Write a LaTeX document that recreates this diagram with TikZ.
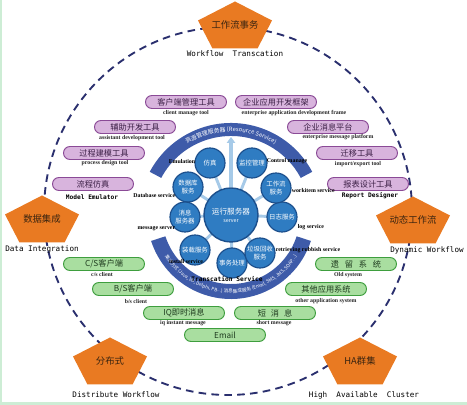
\documentclass[tikz,border=0pt]{standalone}
\usepackage{fontspec}
\setmainfont{Liberation Serif}
\newfontfamily\cjk{Noto Sans CJK SC}
\newfontfamily\mono{DejaVu Sans Mono}
\usepackage{tikz}
\usetikzlibrary{arrows.meta,calc,decorations.text}

\definecolor{pentorange}{HTML}{E97A22}
\definecolor{penttxt}{HTML}{3A2410}
\definecolor{ringnavy}{HTML}{2A2F6E}
\definecolor{boxpurple}{HTML}{D8B4DD}
\definecolor{boxpurpledark}{HTML}{8A4A96}
\definecolor{boxpurpletext}{HTML}{3B1F45}
\definecolor{boxgreen}{HTML}{A9DEA0}
\definecolor{boxgreendark}{HTML}{3E9E3E}
\definecolor{boxgreentext}{HTML}{1E3A1E}
\definecolor{bandblue}{HTML}{3E5BA9}
\definecolor{svcblue}{HTML}{2F7CC2}
\definecolor{svcdark}{HTML}{1C4F8C}
\definecolor{spokeblue}{HTML}{A6CAE8}
\definecolor{bggreen}{HTML}{CDEDD5}

% orange pentagon with its title node
\newcommand{\pentshape}[3]{%
  \fill[pentorange] ($(#2)+(0,23.5)$) -- ++(37,-19) -- ++(-14.5,-28) -- ++(-45,0) -- ++(-14.5,28) -- cycle;
  \node[penttext] (#1) at (#2) {#3};}

\begin{document}
\begin{tikzpicture}[x=0.03cm,y=0.03cm,
  penttext/.style={font=\cjk\fontsize{8}{9}\selectfont,text=penttxt},
  pentlabel/.style={font=\mono\fontsize{6.5}{8}\selectfont},
  toolbox/.style={draw,line width=0.8pt,rounded corners=5.5pt,minimum width=2.43cm,
    minimum height=0.39cm,inner sep=0pt,font=\cjk\fontsize{7}{8}\selectfont},
  purplebox/.style={toolbox,fill=boxpurple,draw=boxpurpledark,text=boxpurpletext},
  greenbox/.style={toolbox,fill=boxgreen,draw=boxgreendark,text=boxgreentext},
  sublabel/.style={font=\bfseries\fontsize{5}{6}\selectfont,text=black!85,inner sep=0pt},
  monolabel/.style={font=\mono\bfseries\fontsize{5.3}{6}\selectfont,inner sep=0pt},
  svc/.style={circle,fill=svcblue,draw=svcdark,line width=1pt,minimum size=0.9cm,
    inner sep=0pt,align=center,text=white,font=\cjk\fontsize{5.5}{6.5}\selectfont},
  svclabel/.style={font=\bfseries\fontsize{5}{6}\selectfont,inner sep=0.5pt},
  spoke/.style={draw=spokeblue,line width=2.5pt},
  band/.style={fill=bandblue},
  dashring/.style={draw=ringnavy,line width=1.6pt,dash pattern=on 6.5pt off 4.5pt}]

  \useasboundingbox (0,0) rectangle (467,405);
  \fill[bggreen] (0,0) rectangle (467,405);
  \fill[white] (2,3) rectangle (467,405);

  % outer dashed ring and the five pentagons on it
  \draw[dashring] (228,194) circle[radius=184];
  \pentshape{trans}{235,380}{工作流事务}
  \pentshape{integ}{42,186}{数据集成}
  \pentshape{dynamic}{413,185}{动态工作流}
  \pentshape{distrib}{110,44}{分布式}
  \pentshape{cluster}{360,44}{HA群集}
  \node[pentlabel] (trans-en) at (235,351) {Workflow\ \ Transcation};
  \node[pentlabel] (integ-en) at (42,156) {Data Integration};
  \node[pentlabel] (dynamic-en) at (427,155) {Dynamic Workflow};
  \node[pentlabel] (distrib-en) at (116,10) {Distribute Workflow};
  \node[pentlabel] (cluster-en) at (364,10) {High\ \ Available\ \ Cluster};

  % purple tool boxes
  \node[purplebox] (clientmgr) at (186,303) {客户端管理工具};
  \node[sublabel] (clientmgr-en) at (186,292) {client manage tool};
  \node[purplebox] (frame) at (276,303) {企业应用开发框架};
  \node[sublabel] (frame-en) at (294,292) {enterprise application development frame};
  \node[purplebox] (assist) at (135,278) {辅助开发工具};
  \node[sublabel] (assist-en) at (132,267) {assistant development tool};
  \node[purplebox] (msgplat) at (328,278) {企业消息平台};
  \node[sublabel] (msgplat-en) at (338,268) {enterprise message platform};
  \node[purplebox] (process) at (104,252) {过程建模工具};
  \node[sublabel] (process-en) at (105,242) {process design tool};
  \node[purplebox] (migrate) at (357,252) {迁移工具};
  \node[sublabel] (migrate-en) at (358,241) {import/export tool};
  \node[purplebox] (emulate) at (93,221) {流程仿真};
  \node[monolabel] (emulate-en) at (92,208) {Model Emulator};
  \node[purplebox] (report) at (368,221) {报表设计工具};
  \node[monolabel] (report-en) at (370,209) {Report Designer};

  % green client and system boxes
  \node[greenbox] (cs) at (104,141) {C/S客户端};
  \node[sublabel] (cs-en) at (102,130) {c/s client};
  \node[greenbox] (old) at (356,141) {遗\hspace{0.7em}留\hspace{0.7em}系\hspace{0.7em}统};
  \node[sublabel] (old-en) at (348,130) {Old system};
  \node[greenbox] (bs) at (133,116) {B/S客户端};
  \node[sublabel] (bs-en) at (136,103) {b/s client};
  \node[greenbox] (other) at (326,116) {其他应用系统};
  \node[sublabel] (other-en) at (326,104) {other application system};
  \node[greenbox] (iq) at (184,92) {IQ即时消息};
  \node[sublabel] (iq-en) at (183,82) {iq instant message};
  \node[greenbox] (sms) at (275,92) {短\hspace{0.6em}消\hspace{0.6em}息};
  \node[sublabel] (sms-en) at (274,82) {short message};
  \node[greenbox] (email) at (225,70) {Email};

  % resource band on top, integration band below
  \coordinate (hubc) at (231,190);
  \fill[band] ($(hubc)+(28:92)$) arc[start angle=28,end angle=152,radius=92]
    -- ($(hubc)+(152:79)$) arc[start angle=152,end angle=28,radius=79] -- cycle;
  \fill[band] ($(hubc)+(198:84)$) arc[start angle=198,end angle=342,radius=84]
    -- ($(hubc)+(342:69)$) arc[start angle=342,end angle=198,radius=69] -- cycle;
  \path[decorate,decoration={text along path,text align=center,text color=white,
      text={|\cjk\fontsize{5}{6}\selectfont|资源管理服务器 (Resource Service)}}]
    ($(hubc)+(150:83.5)$) arc[start angle=150,end angle=30,radius=83.5];
  \path[decorate,decoration={text along path,text align=center,text color=white,
      text={|\cjk\fontsize{4}{5}\selectfont|集成方式 (Java, VB, Delphi, PB...) 消息集成服务 (Email, SMS, JMS, SOAP...)}}]
    ($(hubc)+(200:78)$) arc[start angle=200,end angle=340,radius=78];

  % service ring round the run server
  \foreach \x/\y/\n in {232/142/s1, 260/152/s2, 282/188/s3, 276/217/s4, 252/242/s5,
                        210/242/s6, 188/218/s7, 185/188/s8, 195/155/s9}
    \coordinate (\n) at (\x,\y);
  \foreach \n in {s1,s2,s3,s4,s5,s6,s7,s8,s9}
    \draw[spoke] (hubc) -- (\n);
  \node[svc,minimum size=1.62cm,line width=1.2pt,font=\cjk\fontsize{6.5}{8}\selectfont]
    (hub) at (hubc) {运行服务器\\[-1pt]{\fontsize{4.5}{5}\selectfont server}};
  \coordinate (restop) at (231,268);
  \draw[spoke,line width=2.8pt,-{Triangle[width=7pt,length=5pt]}] (hub) -- (restop);
  \node[svc] (tx) at (s1) {事务处理};
  \node[svc] (rubbish) at (s2) {垃圾回收\\服务};
  \node[svc] (log) at (s3) {日志服务};
  \node[svc] (workitem) at (s4) {工作流\\服务};
  \node[svc] (monitor) at (s5) {监控管理};
  \node[svc] (emu) at (s6) {仿真};
  \node[svc] (db) at (s7) {数据库\\服务};
  \node[svc] (msg) at (s8) {消息\\服务器};
  \node[svc] (load) at (s9) {装载服务};

  \node[svclabel,anchor=east] (emu-en) at (196,243) {Emulation};
  \node[svclabel,anchor=west] (monitor-en) at (266,244) {Control manage};
  \node[svclabel,anchor=west] (workitem-en) at (291,214) {workitem service};
  \node[svclabel,anchor=west] (log-en) at (297,178) {log service};
  \node[svclabel,anchor=west] (rubbish-en) at (275,155) {retrieving rubbish service};
  \node[svclabel,anchor=east] (db-en) at (176,209) {Database service};
  \node[svclabel,anchor=east] (msg-en) at (176,176) {message server};
  \node[svclabel] (load-en) at (186,143) {install service};
  \node[monolabel] (tx-en) at (227,126) {Transcation Service};
\end{tikzpicture}
\end{document}
